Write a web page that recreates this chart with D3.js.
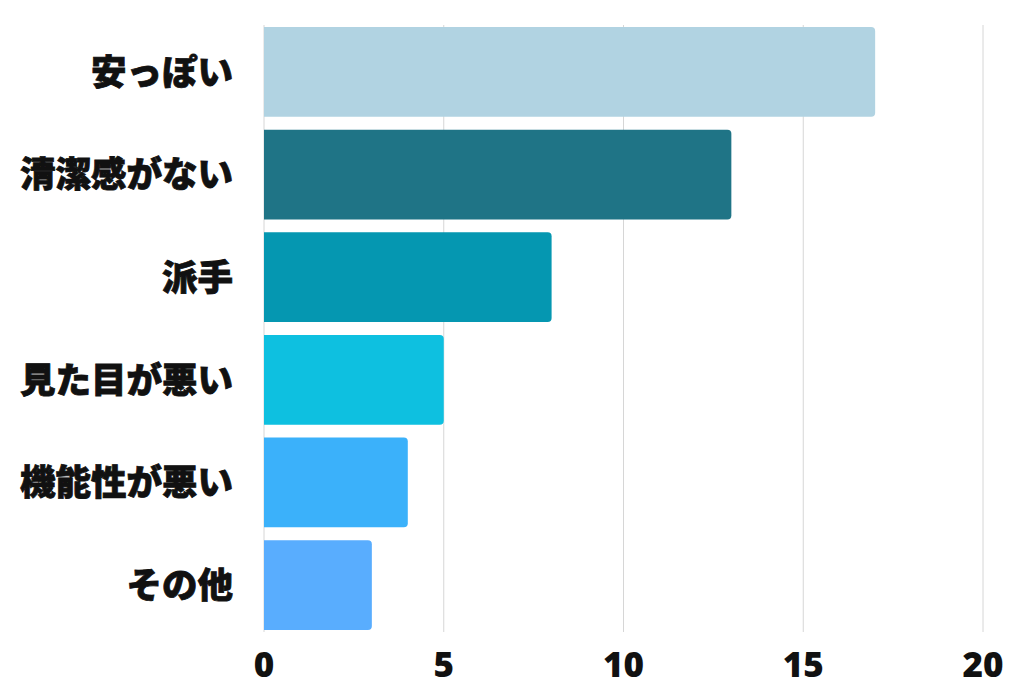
<!DOCTYPE html><html><head><meta charset="utf-8"><script src="https://cdn.jsdelivr.net/npm/d3@7"></script>
<style>body{margin:0;background:#fff}</style></head><body><svg id="c" width="1024" height="694"></svg>
<script>
const categories=["安っぽい","清潔感がない","派手","見た目が悪い","機能性が悪い","その他"];
const values=[17,13,8,5,4,3];
const colors=["#b1d3e2","#1f7486","#0597b1","#0ec0e0","#3bb1fa","#59adfe"];
const ticks=[0,5,10,15,20];
const svg=d3.select("#c");
const x=d3.scaleLinear().domain([0,20]).range([264,983]);
const y=d3.scaleBand().domain(categories).range([25,632]).paddingInner(0.125).paddingOuter(0.02);
svg.selectAll(".g").data(ticks).join("line").attr("x1",d=>x(d)).attr("x2",d=>x(d)).attr("y1",25).attr("y2",632).attr("stroke","#d6d6d6").attr("stroke-width",1);
svg.selectAll(".b").data(values).join("path").attr("fill",(d,i)=>colors[i]).attr("d",(d,i)=>{const x0=x(0),x1=x(d),y0=y(categories[i]),h=y.bandwidth(),r=4;return `M${x0},${y0}H${x1-r}Q${x1},${y0} ${x1},${y0+r}V${y0+h-r}Q${x1},${y0+h} ${x1-r},${y0+h}H${x0}Z`;});
svg.selectAll(".l").data(categories).join("text").attr("x",233).attr("y",d=>y(d)+y.bandwidth()/2).attr("dy","0.36em").attr("text-anchor","end").attr("font-family","Noto Sans CJK JP").attr("font-weight",900).attr("font-size",35.5).attr("fill","#111").attr("stroke","#111").attr("stroke-width",0.8).text(d=>d);
svg.selectAll(".t").data(ticks).join("text").attr("x",d=>x(d)).attr("y",677).attr("text-anchor","middle").attr("font-family","Noto Sans").attr("font-weight",900).attr("font-size",35).attr("fill","#111").text(d=>d);
</script></body></html>
